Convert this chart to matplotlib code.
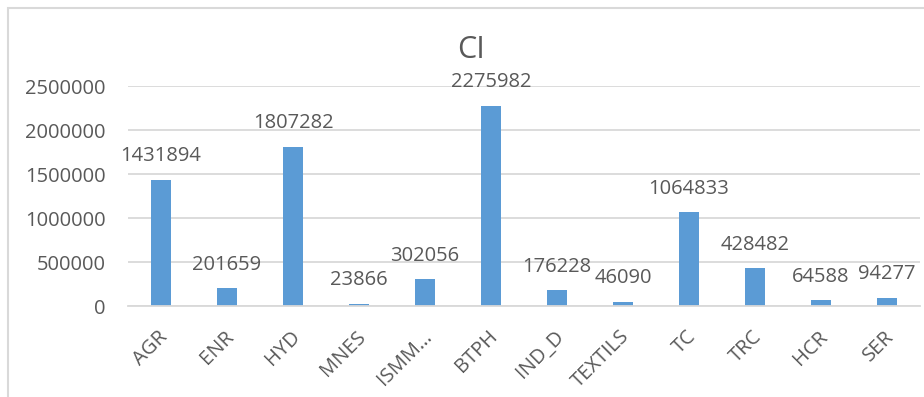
import matplotlib
matplotlib.use("Agg")
import matplotlib.pyplot as plt
from matplotlib.patches import Rectangle
from matplotlib.transforms import ScaledTranslation

# CI by sector
sectors = ["AGR", "ENR", "HYD", "MNES", "ISMM…", "BTPH", "IND_D",
           "TEXTILS", "TC", "TRC", "HCR", "SER"]
ci_values = [1431894, 201659, 1807282, 23866, 302056, 2275982, 176228,
             46090, 1064833, 428482, 64588, 94277]
y_ticks = [0, 500000, 1000000, 1500000, 2000000, 2500000]

plt.rcParams["font.family"] = ["Open Sans", "DejaVu Sans"]
text_color = "#595959"
grid_color = "#d9d9d9"

fig = plt.figure(figsize=(9.24, 3.97), dpi=100)
ax = fig.add_axes([128 / 924, 1 - 306 / 397, 792 / 924, 220 / 397])

x = range(len(sectors))
bars = ax.bar(x, ci_values, width=0.31, color="#5b9bd5", zorder=3)

for bar, val in zip(bars, ci_values):
    ax.annotate(str(val), (bar.get_x() + bar.get_width() / 2, val),
                xytext=(0, 17), textcoords="offset points",
                ha="center", va="center", fontsize=14.5, color=text_color)

ax.set_xlim(-0.5, len(sectors) - 0.5)
ax.set_ylim(0, 2500000)
ax.set_yticks(y_ticks)
ax.set_yticklabels([str(t) for t in y_ticks])
ax.yaxis.grid(True, color=grid_color, linewidth=1.3, zorder=0)
ax.set_xticks(list(x))
ax.set_xticklabels(sectors, rotation=45, ha="right", va="center",
                   rotation_mode="anchor")
ax.tick_params(axis="both", length=0, labelsize=14.5, colors=text_color)
ax.tick_params(axis="y", pad=16)
ax.tick_params(axis="x", pad=20)
# nudge rotated labels a little to the right
shift = ScaledTranslation(4 / 100, 0, fig.dpi_scale_trans)
for lbl in ax.get_xticklabels():
    lbl.set_color(text_color)
    lbl.set_transform(lbl.get_transform() + shift)

for side in ["top", "right", "left"]:
    ax.spines[side].set_visible(False)
ax.spines["bottom"].set_color(grid_color)
ax.spines["bottom"].set_linewidth(1.3)
ax.spines["bottom"].set_zorder(4)

fig.text(471 / 924, 1 - 50 / 397, "CI", ha="center", va="center",
         fontsize=22, color=text_color)

# chart frame
fig.patches.append(Rectangle((8 / 924, -0.1), 1.2, (397 - 8) / 397 + 0.1,
                             transform=fig.transFigure, fill=False,
                             edgecolor=grid_color, linewidth=1.5))

fig.savefig("out.png", dpi=100)
